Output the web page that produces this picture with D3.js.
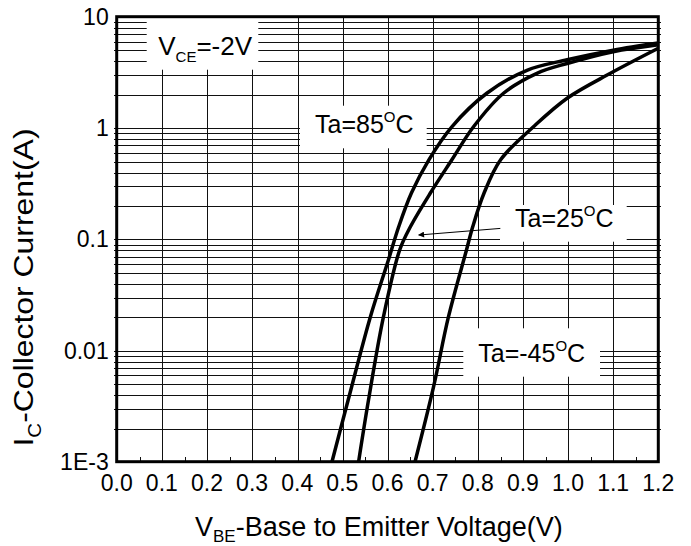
<!DOCTYPE html>
<html>
<head>
<meta charset="utf-8">
<script src="https://cdn.jsdelivr.net/npm/d3@7"></script>
<style>
  body { margin: 0; background: #fff; }
  text { font-family: "Liberation Sans", Arial, sans-serif; fill: #000; }
</style>
</head>
<body>
<div id="chart"></div>
<script>
// x axis ticks (V) and y axis decades (A)
const xTickValues = [0.0, 0.1, 0.2, 0.3, 0.4, 0.5, 0.6, 0.7, 0.8, 0.9, 1.0, 1.1, 1.2];
const yTickValues = [10, 1, 0.1, 0.01, 0.001];
const yTickLabels = ["10", "1", "0.1", "0.01", "1E-3"];

// Ta = 85 C
const vbe85 = [0.477, 0.513, 0.562, 0.602, 0.625, 0.653, 0.692, 0.743, 0.820, 0.909, 0.998, 1.100, 1.200];
const ic85  = [0.001, 0.0036, 0.020, 0.065, 0.13, 0.26, 0.52, 1.03, 2.05, 3.3, 4.1, 5.0, 5.8];
// Ta = 25 C
const vbe25 = [0.536, 0.558, 0.591, 0.627, 0.651, 0.695, 0.743, 0.791, 0.857, 0.931, 0.998, 1.100, 1.200];
const ic25  = [0.001, 0.0036, 0.020, 0.080, 0.13, 0.26, 0.52, 1.03, 2.05, 3.1, 3.8, 4.85, 5.6];
// Ta = -45 C
const vbeM45 = [0.661, 0.702, 0.735, 0.775, 0.789, 0.814, 0.851, 0.924, 0.998, 1.094, 1.200];
const icM45  = [0.001, 0.0047, 0.020, 0.080, 0.13, 0.26, 0.52, 1.03, 1.85, 3.1, 5.2];

const series = [
  {name: "85", v: vbe85, i: ic85},
  {name: "25", v: vbe25, i: ic25},
  {name: "-45", v: vbeM45, i: icM45}
];

const W = 691, H = 546;
const margin = {top: 16.7, right: 32.7, bottom: 84.3, left: 116.7};
const width = W - margin.left - margin.right;
const height = H - margin.top - margin.bottom;

const svg = d3.select('#chart').append('svg')
    .attr('width', W)
    .attr('height', H);

const chart = svg.append('g')
    .attr('transform', `translate(${margin.left},${margin.top})`);

const x = d3.scaleLinear().domain([0, 1.2]).range([0, width]);
const y = d3.scaleLog().domain([0.001, 10]).range([height, 0]);

// every 1..9 x 10^n inside the range
const yGrid = [];
[0.001, 0.01, 0.1, 1].forEach(dec => {
  for (let k = 1; k <= 9; k++) yGrid.push(dec * k);
});
yGrid.push(10);

const grid = chart.append('g').attr('class', 'grid')
    .attr('stroke', '#111').attr('stroke-width', 1).attr('shape-rendering', 'crispEdges');

grid.selectAll('.vgrid')
    .data(xTickValues.slice(1, -1))
  .join('line')
    .attr('class', 'vgrid')
    .attr('x1', d => Math.round(x(d)) + 0.5).attr('x2', d => Math.round(x(d)) + 0.5)
    .attr('y1', 0).attr('y2', height);

grid.selectAll('.hgrid')
    .data(yGrid.slice(1, -1))
  .join('line')
    .attr('class', 'hgrid')
    .attr('x1', -3).attr('x2', width + 3)
    .attr('y1', d => Math.round(y(d)) + 0.5).attr('y2', d => Math.round(y(d)) + 0.5);

// small ticks at the half steps on the bottom axis
grid.selectAll('.xminor')
    .data(xTickValues.slice(0, -1).map(d => d + 0.05))
  .join('line')
    .attr('class', 'xminor')
    .attr('x1', d => Math.round(x(d)) + 0.5).attr('x2', d => Math.round(x(d)) + 0.5)
    .attr('y1', height).attr('y2', height - 5);

// white label boxes hide the grid
const boxes = [
  {x0: 30, y0: 0, x1: 141.6, y1: 53},
  {x0: 183.3, y0: 89, x1: 310, y1: 131.6},
  {x0: 383.3, y0: 188.3, x1: 510, y1: 225},
  {x0: 346.6, y0: 311.6, x1: 483.3, y1: 360}
];
chart.selectAll('.box')
    .data(boxes)
  .join('rect')
    .attr('class', 'box')
    .attr('x', d => d.x0).attr('y', d => d.y0)
    .attr('width', d => d.x1 - d.x0).attr('height', d => d.y1 - d.y0)
    .attr('fill', '#fff');

// curves
const line = d3.line()
    .x(d => x(d[0]))
    .y(d => y(d[1]))
    .curve(d3.curveCatmullRom.alpha(0.5));

chart.selectAll('.curve')
    .data(series)
  .join('path')
    .attr('class', 'curve')
    .attr('d', s => line(s.v.map((v, k) => [v, s.i[k]])))
    .attr('fill', 'none')
    .attr('stroke', '#000')
    .attr('stroke-width', 3.5)
    .attr('stroke-linejoin', 'round');

// frame
chart.append('rect')
    .attr('width', width).attr('height', height)
    .attr('fill', 'none').attr('stroke', '#000').attr('stroke-width', 3);

// tick labels
chart.selectAll('.xlabel')
    .data(xTickValues)
  .join('text')
    .attr('class', 'xlabel')
    .attr('x', d => x(d)).attr('y', height + 29)
    .attr('text-anchor', 'middle')
    .style('font-size', '23px')
    .text(d => d.toFixed(1));

chart.selectAll('.ylabel')
    .data(yTickValues)
  .join('text')
    .attr('class', 'ylabel')
    .attr('x', -8).attr('y', d => y(d))
    .attr('dy', '0.36em')
    .attr('text-anchor', 'end')
    .style('font-size', '23px')
    .text((d, k) => yTickLabels[k]);

// axis titles
const xTitle = svg.append('text')
    .attr('x', 195).attr('y', 535.5)
    .style('font-size', '27px');
xTitle.append('tspan').text('V');
xTitle.append('tspan').attr('dy', 6).style('font-size', '17px').text('BE');
xTitle.append('tspan').attr('dy', -6).text('-Base to Emitter Voltage(V)');

const yTitle = svg.append('text')
    .attr('transform', 'translate(33,287.5) rotate(-90) scale(1.14,1)')
    .attr('text-anchor', 'middle')
    .style('font-size', '28px');
yTitle.append('tspan').text('I');
yTitle.append('tspan').attr('dy', 8).style('font-size', '18px').text('C');
yTitle.append('tspan').attr('dy', -8).text('-Collector Current(A)');

// annotations
const vce = chart.append('text')
    .attr('x', 41.5).attr('y', 38.5)
    .style('font-size', '26px');
vce.append('tspan').text('V');
vce.append('tspan').attr('dy', 7).style('font-size', '15px').text('CE');
vce.append('tspan').attr('dy', -7).text('=-2V');

const taLabels = [
  {t: 'Ta=85', x: 198.3, y: 116.6},
  {t: 'Ta=25', x: 398.3, y: 210},
  {t: 'Ta=-45', x: 361.6, y: 345}
];
taLabels.forEach(d => {
  const t = chart.append('text')
      .attr('x', d.x).attr('y', d.y)
      .style('font-size', '25px');
  t.append('tspan').text(d.t);
  t.append('tspan').attr('dy', -11).style('font-size', '15px').text('O');
  t.append('tspan').attr('dy', 11).text('C');
});

// arrow pointing at the 25 C curve
svg.append('defs').append('marker')
    .attr('id', 'arrow')
    .attr('viewBox', '0 0 10 10')
    .attr('refX', 9).attr('refY', 5)
    .attr('markerWidth', 9).attr('markerHeight', 6)
    .attr('markerUnits', 'userSpaceOnUse')
    .attr('orient', 'auto')
  .append('path')
    .attr('d', 'M0,0L10,5L0,10z')
    .attr('fill', '#000');

chart.append('line')
    .attr('x1', x(0.850)).attr('y1', y(0.125))
    .attr('x2', x(0.669)).attr('y2', y(0.109))
    .attr('stroke', '#000').attr('stroke-width', 1)
    .attr('marker-end', 'url(#arrow)');
</script>
</body>
</html>
